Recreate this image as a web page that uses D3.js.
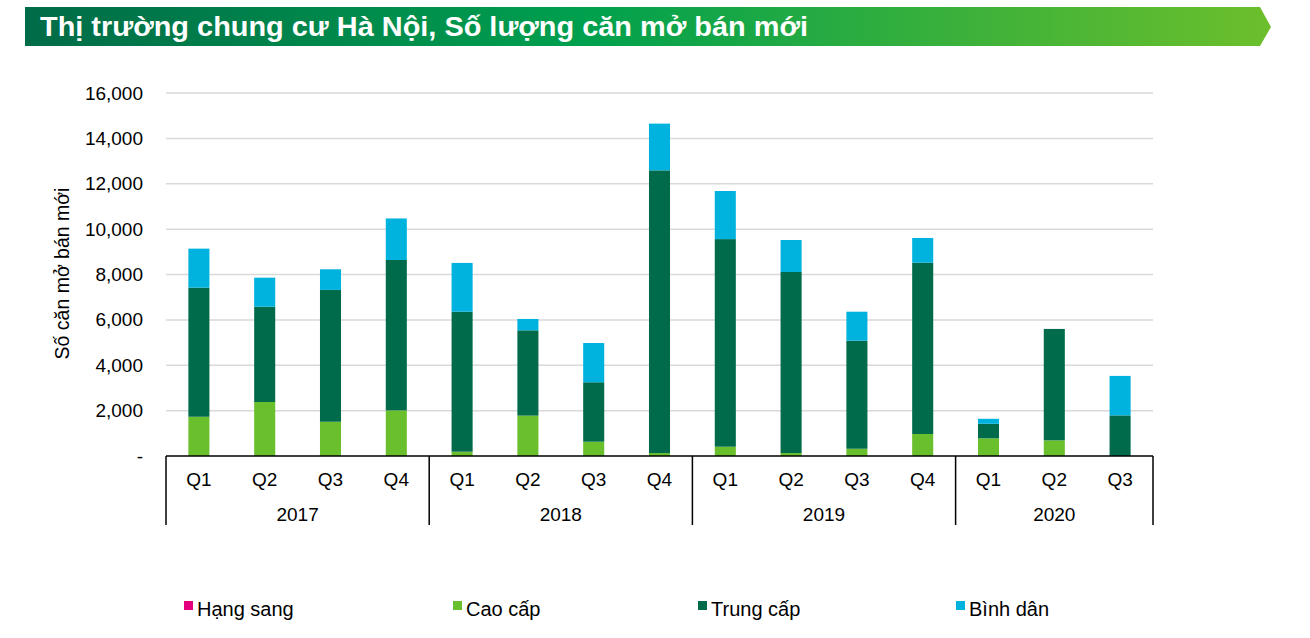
<!DOCTYPE html>
<html>
<head>
<meta charset="utf-8">
<script src="https://cdn.jsdelivr.net/npm/d3@7"></script>
<style>
  body { margin: 0; background: #fff; }
  text { font-family: "Liberation Sans", Arial, sans-serif; }
</style>
</head>
<body>
<div id="chart"></div>
<script>
const titleText = "Thị trường chung cư Hà Nội, Số lượng căn mở bán mới";
const yLabel = "Số căn mở bán mới";

const years = ["2017", "2018", "2019", "2020"];
const quarters = [
    ["Q1", "Q2", "Q3", "Q4"],
    ["Q1", "Q2", "Q3", "Q4"],
    ["Q1", "Q2", "Q3", "Q4"],
    ["Q1", "Q2", "Q3"]
];

const seriesNames = ["Hạng sang", "Cao cấp", "Trung cấp", "Bình dân"];
const hangSang = [0, 0, 0, 0, 0, 0, 0, 0, 0, 0, 0, 0, 0, 0, 0];
const caoCap = [1730, 2380, 1510, 2010, 190, 1780, 630, 130, 410, 130, 320, 970, 780, 690, 0];
const trungCap = [5690, 4200, 5810, 6630, 6170, 3760, 2620, 12460, 9150, 7980, 4760, 7550, 640, 4910, 1790];
const binhDan = [1720, 1280, 910, 1830, 2150, 500, 1730, 2060, 2120, 1410, 1280, 1090, 220, 0, 1740];

const yTicks = [0, 2000, 4000, 6000, 8000, 10000, 12000, 14000, 16000];
const colors = ["#e5007e", "#6abf2d", "#006b4b", "#00b2de"];

const WIDTH = 1310, HEIGHT = 638;
const margin = { top: 93, left: 166, right: 157, bottom: 182 };
const width = WIDTH - margin.left - margin.right,
    height = HEIGHT - margin.top - margin.bottom;

// build rows from the arrays
const rows = [];
years.forEach((yr, i) => {
    quarters[i].forEach(q => rows.push({ key: yr + " " + q, year: yr, q: q }));
});
rows.forEach((r, i) => {
    r["Hạng sang"] = hangSang[i];
    r["Cao cấp"] = caoCap[i];
    r["Trung cấp"] = trungCap[i];
    r["Bình dân"] = binhDan[i];
});

const svg = d3.select("#chart")
    .append("svg")
    .attr("width", WIDTH)
    .attr("height", HEIGHT);

// title banner
const defs = svg.append("defs");
const grad = defs.append("linearGradient").attr("id", "bannerGrad");
grad.append("stop").attr("offset", "0%").attr("stop-color", "#006b48");
grad.append("stop").attr("offset", "45%").attr("stop-color", "#00a04e");
grad.append("stop").attr("offset", "100%").attr("stop-color", "#6cbf2b");

svg.append("path")
    .attr("d", "M25,7 L1260,7 L1271,27 L1260,46 L25,46 Z")
    .attr("fill", "url(#bannerGrad)");

svg.append("text")
    .attr("x", 40)
    .attr("y", 36)
    .attr("fill", "#fff")
    .attr("font-size", 27)
    .attr("font-weight", "bold")
    .attr("textLength", 768)
    .attr("lengthAdjust", "spacingAndGlyphs")
    .text(titleText);

const x = d3.scaleBand()
    .domain(rows.map(d => d.key))
    .range([0, width])
    .paddingInner(0.68)
    .paddingOuter(0.34);

const y = d3.scaleLinear()
    .domain([0, 16000])
    .range([height, 0]);

const g = svg.append("g")
    .attr("transform", `translate(${margin.left}, ${margin.top})`);

// gridlines
g.append("g")
    .selectAll("line")
    .data(yTicks.slice(1))
    .join("line")
    .attr("x1", 0)
    .attr("x2", width)
    .attr("y1", d => y(d))
    .attr("y2", d => y(d))
    .attr("stroke", "#d9d9d9")
    .attr("stroke-width", 1.5);

// y axis labels
const yAxis = g.append("g")
    .call(d3.axisLeft(y).tickValues(yTicks)
        .tickFormat(d => d === 0 ? "-" : d3.format(",")(d))
        .tickSize(0).tickPadding(23));
yAxis.select(".domain").remove();
yAxis.selectAll("text")
    .attr("font-size", 19)
    .attr("fill", "#000")
    .style("font-family", "Liberation Sans, Arial, sans-serif");

svg.append("text")
    .attr("transform", `translate(69, ${margin.top + height / 2 - 1}) rotate(-90)`)
    .attr("text-anchor", "middle")
    .attr("font-size", 19.5)
    .attr("fill", "#000")
    .text(yLabel);

// stacked bars
const stack = d3.stack().keys(seriesNames);
const series = stack(rows);

g.append("g")
    .selectAll("g")
    .data(series)
    .join("g")
    .attr("fill", (d, i) => colors[i])
    .selectAll("rect")
    .data(d => d)
    .join("rect")
    .attr("x", d => x(d.data.key))
    .attr("width", x.bandwidth())
    .attr("y", d => y(d[1]))
    .attr("height", d => y(d[0]) - y(d[1]));

// category axis
g.append("line")
    .attr("x1", 0).attr("x2", width)
    .attr("y1", height).attr("y2", height)
    .attr("stroke", "#000").attr("stroke-width", 1.5);

g.append("g")
    .selectAll("text")
    .data(rows)
    .join("text")
    .attr("x", d => x(d.key) + x.bandwidth() / 2)
    .attr("y", height + 30)
    .attr("text-anchor", "middle")
    .attr("font-size", 19)
    .text(d => d.q);

// year groups
const yearGroups = years.map(yr => {
    const keys = rows.filter(r => r.year === yr).map(r => r.key);
    const x0 = x(keys[0]) - x.step() * x.paddingInner() / 2;
    const x1 = x(keys[keys.length - 1]) + x.bandwidth() + x.step() * x.paddingInner() / 2;
    return { year: yr, x0: x0, x1: x1 };
});

g.append("g")
    .selectAll("line")
    .data([yearGroups[0].x0].concat(yearGroups.map(d => d.x1)))
    .join("line")
    .attr("x1", d => d).attr("x2", d => d)
    .attr("y1", height).attr("y2", height + 69)
    .attr("stroke", "#000").attr("stroke-width", 1.5);

g.append("g")
    .selectAll("text")
    .data(yearGroups)
    .join("text")
    .attr("x", d => (d.x0 + d.x1) / 2)
    .attr("y", height + 65)
    .attr("text-anchor", "middle")
    .attr("font-size", 19)
    .text(d => d.year);

// legend
const legendX = [184, 453, 698, 956];
const legend = svg.append("g")
    .selectAll("g")
    .data(seriesNames)
    .join("g")
    .attr("transform", (d, i) => `translate(${legendX[i]}, 609)`);

legend.append("rect")
    .attr("x", 0).attr("y", -8)
    .attr("width", 9).attr("height", 9)
    .attr("fill", (d, i) => colors[i]);

legend.append("text")
    .attr("x", 13)
    .attr("y", 7)
    .attr("font-size", 20)
    .text(d => d);
</script>
</body>
</html>
